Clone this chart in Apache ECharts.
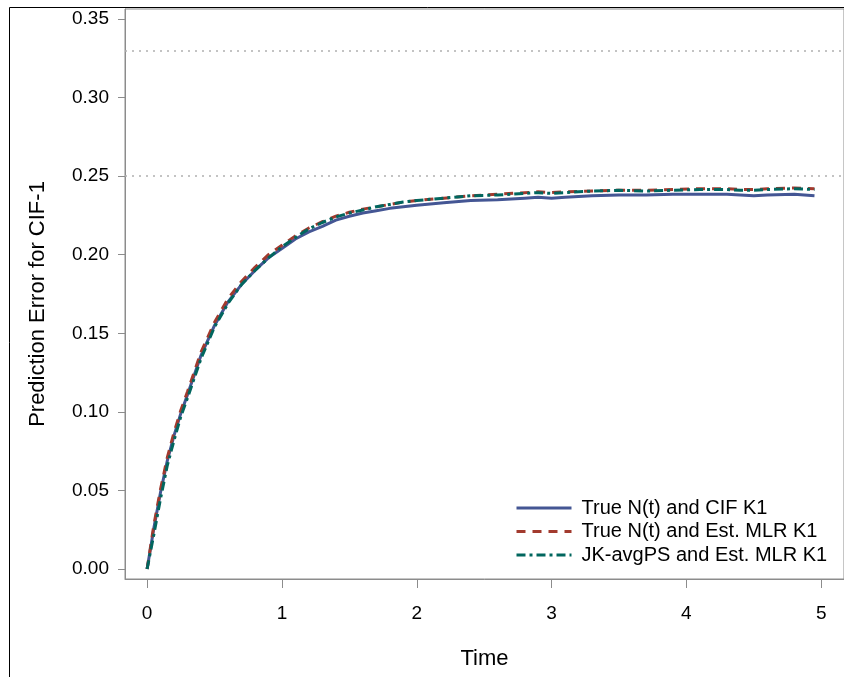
<!DOCTYPE html>
<html>
<head>
<meta charset="utf-8">
<script src="https://cdn.jsdelivr.net/npm/echarts@6/dist/echarts.min.js"></script>
<style>
html,body{margin:0;padding:0;background:#fff;}
#c{width:844px;height:677px;}
</style>
</head>
<body>
<div id="c"></div>
<script>
const times = [0,0.05,0.1,0.15,0.2,0.25,0.3,0.4,0.5,0.6,0.7,0.8,0.9,1.0,1.1,1.2,1.3,1.4,1.5,1.6,1.7,1.8,1.9,2.0,2.2,2.4,2.6,2.8,2.9,3.0,3.1,3.3,3.5,3.7,3.9,4.1,4.3,4.4,4.5,4.6,4.8,4.95];
const trueCIF = [0,0.026,0.049,0.069,0.085,0.099,0.111,0.136,0.155,0.170,0.181,0.190,0.198,0.204,0.210,0.2145,0.218,0.222,0.2245,0.2265,0.228,0.2295,0.2305,0.2315,0.233,0.2345,0.235,0.236,0.2365,0.236,0.2365,0.2375,0.238,0.238,0.2385,0.2385,0.2385,0.238,0.2375,0.238,0.2385,0.2375];
const trueMLR = [0,0.028,0.051,0.071,0.087,0.101,0.113,0.138,0.157,0.172,0.183,0.192,0.200,0.206,0.212,0.217,0.221,0.2245,0.227,0.229,0.2305,0.232,0.2335,0.2345,0.236,0.2375,0.2385,0.2395,0.240,0.2395,0.240,0.2405,0.241,0.241,0.2415,0.242,0.242,0.2415,0.2415,0.242,0.2425,0.242];
const jkMLR = [0,0.022,0.045,0.066,0.082,0.097,0.109,0.134,0.154,0.169,0.181,0.190,0.198,0.205,0.211,0.2165,0.2205,0.224,0.2265,0.2285,0.2305,0.232,0.2335,0.2345,0.236,0.2375,0.238,0.239,0.2395,0.239,0.2395,0.2405,0.241,0.2405,0.241,0.2415,0.2415,0.241,0.241,0.2415,0.242,0.2415];
const seriesNames = ['True N(t) and CIF K1','True N(t) and Est. MLR K1','JK-avgPS and Est. MLR K1'];
const xTicks = [0,1,2,3,4,5];
const yTicks = [0,0.05,0.10,0.15,0.20,0.25,0.30,0.35];
const refLines = [0.25,0.33];

const pair = vals => times.map((t,i)=>[t,vals[i]]);
const FONT = 'Liberation Sans';
const axisGray = '#8c8c8c';

const chart = echarts.init(document.getElementById('c'));
chart.setOption({
  animation:false,
  backgroundColor:'#fff',
  graphic:[{type:'rect',shape:{x:9.5,y:7.5,width:900,height:700},style:{fill:'none',stroke:'#000',lineWidth:1},z:-1}],
  grid:{left:125,top:9,right:-5,bottom:98,show:true,borderColor:axisGray,borderWidth:1,backgroundColor:'transparent'},
  xAxis:{
    type:'value',min:-0.164,max:5.169,
    name:'Time',nameLocation:'middle',nameGap:69,
    nameTextStyle:{fontFamily:FONT,fontSize:22,color:'#000'},
    axisLine:{show:true,onZero:false,lineStyle:{color:axisGray,width:1}},
    axisTick:{show:true,inside:false,length:9,lineStyle:{color:axisGray},customValues:xTicks},
    axisLabel:{fontFamily:FONT,fontSize:19,color:'#000',margin:25,customValues:xTicks,formatter:v=>String(v)},
    splitLine:{show:false}
  },
  yAxis:{
    type:'value',min:-0.00636,max:0.35636,
    name:'Prediction Error for CIF-1',nameLocation:'middle',nameGap:76,
    nameTextStyle:{fontFamily:FONT,fontSize:22,color:'#000',padding:[0,20,0,0]},
    axisLine:{show:true,onZero:false,lineStyle:{color:axisGray,width:1}},
    axisTick:{show:true,inside:false,length:7,lineStyle:{color:axisGray},customValues:yTicks},
    axisLabel:{fontFamily:FONT,fontSize:19,color:'#000',margin:16,customValues:yTicks,formatter:v=>v.toFixed(2)},
    splitLine:{show:false}
  },
  legend:{
    orient:'vertical',left:510,top:493,itemWidth:55,itemHeight:20,itemGap:3.5,
    itemStyle:{opacity:0},
    lineStyle:{width:3},
    textStyle:{fontFamily:FONT,fontSize:20,color:'#000',padding:[0,0,0,5]},
    data:seriesNames
  },
  series:[
    {name:seriesNames[0],type:'line',data:pair(trueCIF),showSymbol:false,symbol:'none',
     lineStyle:{color:'#445694',width:3},itemStyle:{color:'#445694'},z:3,
     markLine:{silent:true,symbol:'none',label:{show:false},
       lineStyle:{color:'#b0b0b0',width:1.5,type:[2,5]},
       data:refLines.map(v=>({yAxis:v}))}},
    {name:seriesNames[1],type:'line',data:pair(trueMLR),showSymbol:false,symbol:'none',
     lineStyle:{color:'#A23A2E',width:3,type:[9,7]},itemStyle:{color:'#A23A2E'},z:4},
    {name:seriesNames[2],type:'line',data:pair(jkMLR),showSymbol:false,symbol:'none',
     lineStyle:{color:'#01665E',width:3,type:[9,4,3,4]},itemStyle:{color:'#01665E'},z:5}
  ]
});
</script>
</body>
</html>
